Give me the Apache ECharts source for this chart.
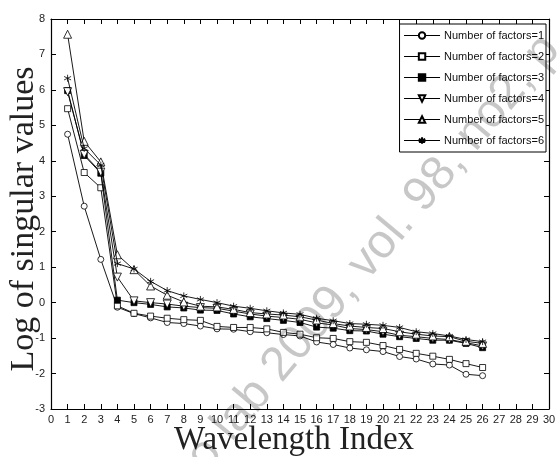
<!DOCTYPE html>
<html>
<head>
<meta charset="utf-8">
<script src="https://cdn.jsdelivr.net/npm/echarts@6/dist/echarts.min.js"></script>
<style>
  html, body { margin: 0; padding: 0; background: #fff; }
  #chart { width: 558px; height: 457px; }
</style>
</head>
<body>
<div id="chart"></div>
<script>
// wavelength index 1..26
const waveIndex = [1, 2, 3, 4, 5, 6, 7, 8, 9, 10, 11, 12, 13, 14, 15, 16, 17, 18, 19, 20, 21, 22, 23, 24, 25, 26]

const factors1 = [4.75, 2.72, 1.22, -0.13, -0.31, -0.43, -0.56, -0.59, -0.66, -0.74, -0.75, -0.82, -0.85, -0.9, -0.94, -1.11, -1.18, -1.28, -1.33, -1.38, -1.52, -1.59, -1.73, -1.76, -2.02, -2.06]
const factors2 = [5.47, 3.67, 3.24, -0.09, -0.3, -0.38, -0.44, -0.48, -0.5, -0.67, -0.7, -0.7, -0.74, -0.84, -0.89, -0.99, -1.01, -1.1, -1.12, -1.21, -1.32, -1.43, -1.51, -1.6, -1.72, -1.83]
const factors3 = [5.98, 4.15, 3.65, 0.07, 0.0, -0.05, -0.12, -0.15, -0.21, -0.22, -0.32, -0.4, -0.45, -0.5, -0.56, -0.69, -0.72, -0.79, -0.8, -0.89, -0.96, -1.01, -1.06, -1.06, -1.15, -1.27]
const factors4 = [5.95, 4.18, 3.68, 0.72, 0.05, 0.0, -0.04, -0.1, -0.14, -0.16, -0.24, -0.32, -0.38, -0.42, -0.47, -0.57, -0.63, -0.73, -0.76, -0.82, -0.92, -0.96, -1.01, -1.04, -1.13, -1.22]
const factors5 = [7.57, 4.55, 3.97, 1.35, 0.93, 0.47, 0.21, 0.02, -0.1, -0.12, -0.19, -0.28, -0.32, -0.35, -0.4, -0.49, -0.59, -0.66, -0.7, -0.73, -0.82, -0.89, -0.94, -0.96, -1.09, -1.15]
const factors6 = [6.33, 4.35, 3.88, 1.1, 0.95, 0.6, 0.34, 0.19, 0.09, 0.0, -0.1, -0.16, -0.23, -0.29, -0.33, -0.44, -0.51, -0.59, -0.61, -0.64, -0.7, -0.82, -0.87, -0.94, -1.04, -1.1]

const seriesNames = ['Number of factors=1', 'Number of factors=2', 'Number of factors=3',
  'Number of factors=4', 'Number of factors=5', 'Number of factors=6']

const watermark = 'o lab 2009, vol. 98, no2, p'

const asterisk = 'path://M0,-5L0,5M-4.33,-2.5L4.33,2.5M-4.33,2.5L4.33,-2.5'

const markers = [
  { symbol: 'circle', size: 6, fill: '#fff', rotate: 0 },
  { symbol: 'rect', size: 6, fill: '#fff', rotate: 0 },
  { symbol: 'rect', size: 6, fill: '#000', rotate: 0 },
  { symbol: 'triangle', size: 8, fill: '#fff', rotate: 180 },
  { symbol: 'triangle', size: 8, fill: '#fff', rotate: 0 },
  { symbol: asterisk, size: 7, fill: '#000', rotate: 0 }
]

const allValues = [factors1, factors2, factors3, factors4, factors5, factors6]

const chart = echarts.init(document.getElementById('chart'))

const tickFont = { fontFamily: 'Liberation Sans', fontSize: 11, color: '#222' }

const series = allValues.map((vals, i) => ({
  name: seriesNames[i],
  type: 'line',
  data: waveIndex.map((x, k) => [x, vals[k]]),
  symbol: markers[i].symbol,
  symbolSize: markers[i].size,
  symbolRotate: markers[i].rotate,
  showAllSymbol: true,
  lineStyle: { color: '#000', width: 0.9 },
  itemStyle: { color: markers[i].fill, borderColor: '#000', borderWidth: 0.8 },
  emphasis: { disabled: true },
  z: 2 + i
}))

const axisBase = {
  type: 'value',
  splitLine: { show: false },
  nameMoveOverlap: false,
  axisLine: { show: true, onZero: false, lineStyle: { color: '#000', width: 1.2 } },
  axisTick: { show: true, inside: true, length: 5, lineStyle: { color: '#000', width: 1 } }
}

chart.setOption({
  animation: false,
  backgroundColor: '#fff',
  grid: { left: 51, right: 9, top: 19, bottom: 48, outerBoundsMode: 'none', containLabel: false },
  graphic: [{
    type: 'text',
    x: 196,
    y: 465,
    rotation: 50 * Math.PI / 180,
    z: 100,
    silent: true,
    style: {
      text: watermark,
      fontFamily: 'Liberation Sans',
      fontSize: 48,
      fill: 'rgba(0,0,0,0.22)',
      textAlign: 'left',
      textVerticalAlign: 'middle'
    }
  }],
  legend: {
    orient: 'vertical',
    right: 12,
    top: 24,
    align: 'left',
    backgroundColor: '#fff',
    borderColor: '#000',
    borderWidth: 1,
    borderRadius: 0,
    padding: [6, 2, 6, 4],
    itemWidth: 36,
    itemHeight: 8,
    itemGap: 10,
    lineStyle: { width: 1 },
    textStyle: { fontFamily: 'Liberation Sans', fontSize: 11, color: '#111', padding: [0, 0, 0, -1] },
    data: seriesNames
  },
  xAxis: [
    {
      ...axisBase,
      position: 'bottom',
      min: 0,
      max: 30,
      interval: 1,
      axisLabel: { ...tickFont, margin: 5 },
      name: 'Wavelength Index',
      nameLocation: 'middle',
      nameGap: 15,
      nameTextStyle: { fontFamily: 'Liberation Serif', fontSize: 33, color: '#222', padding: [0, 12, 0, 0] }
    },
    {
      ...axisBase,
      position: 'top',
      min: 0,
      max: 30,
      interval: 1,
      axisLabel: { show: false }
    }
  ],
  yAxis: [
    {
      ...axisBase,
      position: 'left',
      min: -3,
      max: 8,
      interval: 1,
      axisLabel: { ...tickFont, margin: 6, formatter: (v) => (v < 0 ? '-' + Math.abs(v) : String(v)) },
      name: 'Log of singular values',
      nameLocation: 'middle',
      nameGap: 10,
      nameTextStyle: { fontFamily: 'Liberation Serif', fontSize: 34, color: '#222', padding: [0, 10, 0, 0] }
    },
    {
      ...axisBase,
      position: 'right',
      min: -3,
      max: 8,
      interval: 1,
      axisLabel: { show: false }
    }
  ],
  series
})
</script>
</body>
</html>
